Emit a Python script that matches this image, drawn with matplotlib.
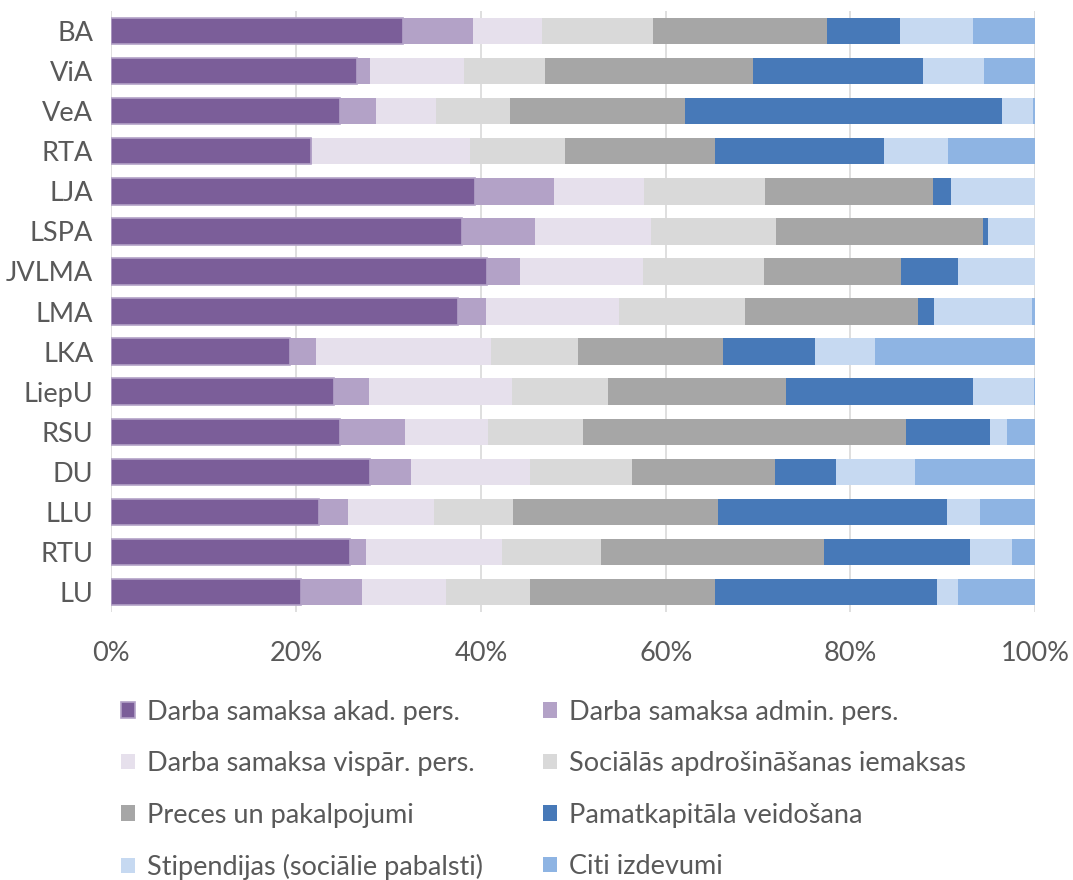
import matplotlib.pyplot as plt
import numpy as np

# Universities / academies, top to bottom
universities = ["BA", "ViA", "VeA", "RTA", "LJA", "LSPA", "JVLMA", "LMA",
                "LKA", "LiepU", "RSU", "DU", "LLU", "RTU", "LU"]

series_names = [
    "Darba samaksa akad. pers.",
    "Darba samaksa admin. pers.",
    "Darba samaksa vispār. pers.",
    "Sociālās apdrošināšanas iemaksas",
    "Preces un pakalpojumi",
    "Pamatkapitāla veidošana",
    "Stipendijas (sociālie pabalsti)",
    "Citi izdevumi",
]

# shares in %, same order as universities
akad = [31.6, 26.6, 24.7, 21.6, 39.4, 37.9, 40.7, 37.5, 19.3, 24.1, 24.7, 28.0, 22.5, 25.8, 20.5]
admin = [7.5, 1.4, 3.9, 0.1, 8.5, 7.9, 3.5, 3.0, 2.8, 3.8, 7.1, 4.4, 3.1, 1.8, 6.6]
vispar = [7.5, 10.2, 6.5, 17.2, 9.7, 12.6, 13.3, 14.4, 19.0, 15.5, 9.0, 12.9, 9.3, 14.7, 9.1]
social = [12.0, 8.7, 8.1, 10.3, 13.2, 13.5, 13.1, 13.7, 9.4, 10.4, 10.3, 11.0, 8.6, 10.7, 9.1]
preces = [18.9, 22.6, 18.9, 16.2, 18.1, 22.4, 14.9, 18.7, 15.7, 19.2, 34.9, 15.5, 22.2, 24.1, 20.0]
pamatk = [7.9, 18.4, 34.3, 18.3, 2.0, 0.6, 6.1, 1.7, 10.0, 20.3, 9.1, 6.6, 24.7, 15.8, 24.1]
stipend = [7.9, 6.6, 3.4, 7.0, 9.1, 5.1, 8.4, 10.6, 6.5, 6.6, 1.8, 8.6, 3.6, 4.6, 2.2]
citi = [6.7, 5.5, 0.2, 9.4, 0.0, 0.0, 0.0, 0.4, 17.3, 0.1, 3.1, 13.0, 6.0, 2.5, 8.4]

colors = ["#7B5E99", "#B3A2C7", "#E6E0EC", "#D9D9D9",
          "#A6A6A6", "#4779B8", "#C6D9F1", "#8EB4E3"]

data = np.array([akad, admin, vispar, social, preces, pamatk, stipend, citi], dtype=float)
# normalise each university to 100 %
data = data / data.sum(axis=0) * 100

plt.rcParams['font.family'] = ['Lato', 'DejaVu Sans']

fig = plt.figure(figsize=(10.73, 8.8), dpi=100)
ax = fig.add_axes([0.1038, 0.3045, 0.861, 0.683])

y_pos = np.arange(len(universities))
left = np.zeros(len(universities))
bars = []
for i in range(len(series_names)):
    if i == 0:
        b = ax.barh(y_pos, data[i], left=left, height=0.66, color=colors[i],
                    edgecolor="#B3A2C7", linewidth=1.2, label=series_names[i], zorder=3)
    else:
        b = ax.barh(y_pos, data[i], left=left, height=0.66, color=colors[i],
                    linewidth=0, label=series_names[i], zorder=2)
    bars.append(b)
    left = left + data[i]

ax.set_xlim(0, 100)
ax.set_ylim(len(universities) - 0.5, -0.5)
ax.set_xticks([0, 20, 40, 60, 80, 100])
ax.set_xticklabels(["0%", "20%", "40%", "60%", "80%", "100%"])
ax.set_yticks(y_pos)
ax.set_yticklabels(universities)
ax.tick_params(length=0, labelsize=19.5, colors="#595959")
ax.tick_params(axis="y", pad=13)
ax.tick_params(axis="x", pad=21)
ax.grid(axis="x", color="#D9D9D9", linewidth=1.2, zorder=0)
ax.set_axisbelow(True)
for s in ax.spines.values():
    s.set_visible(False)

# legend filled row by row
order = [0, 2, 4, 6, 1, 3, 5, 7]
leg = fig.legend([bars[i] for i in order], [series_names[i] for i in order],
                 loc="upper left", bbox_to_anchor=(0.113, 0.205), ncol=2,
                 frameon=False, fontsize=19.5, handlelength=0.5, handleheight=0.5,
                 handletextpad=0.45, columnspacing=2.22, labelspacing=0.98,
                 borderaxespad=0, borderpad=0)
for t in leg.get_texts():
    t.set_color("#595959")

fig.savefig("out.png", dpi=100)
